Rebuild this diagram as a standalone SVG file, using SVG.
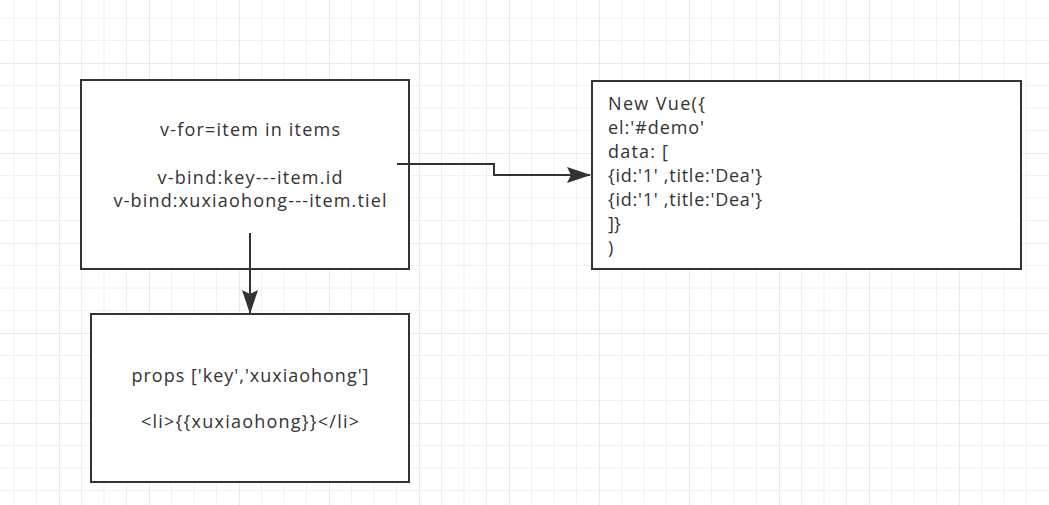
<svg xmlns="http://www.w3.org/2000/svg" width="1049" height="505" viewBox="0 0 1049 505">
<style>
.box{fill:#fff;stroke:#333;stroke-width:2}
.t{font-family:"Open Sans","Noto Sans","Liberation Sans",sans-serif;font-size:18px;fill:#333}
.c{text-anchor:middle}
.edge{fill:none;stroke:#333;stroke-width:2}
</style>
<defs>
<pattern id="grid" patternUnits="userSpaceOnUse" x="59" y="63" width="90" height="90">
<path d="M22.5,0V90M45,0V90M67.5,0V90M0,22.5H90M0,45H90M0,67.5H90" stroke="#f0f0f0" stroke-width="1" fill="none"/>
<path d="M0,0V90M0,0H90" stroke="#e4e4e4" stroke-width="1.5" fill="none"/>
</pattern>
<marker id="arr" viewBox="0 0 24 16" refX="23" refY="8" markerWidth="24" markerHeight="16" markerUnits="userSpaceOnUse" orient="auto">
<path d="M0,0 L24,8 L0,16 L4,8 z" fill="#333"/>
</marker>
</defs>
<rect width="1049" height="505" fill="#fff"/>
<rect width="1049" height="505" fill="url(#grid)"/>
<g id="node-vfor">
<rect class="box" x="81" y="80" width="328" height="189"/>
<text class="t c" x="250" y="136" textLength="180" lengthAdjust="spacing">v-for=item in items</text>
<text class="t c" x="250" y="184" textLength="185" lengthAdjust="spacing">v-bind:key---item.id</text>
<text class="t c" x="250" y="207" textLength="273" lengthAdjust="spacing">v-bind:xuxiaohong---item.tiel</text>
</g>
<g id="node-vue">
<rect class="box" x="592" y="81" width="429" height="188"/>
<text class="t" x="608" y="110" textLength="97" lengthAdjust="spacing">New Vue({</text>
<text class="t" x="608" y="134" textLength="96" lengthAdjust="spacing">el:'#demo'</text>
<text class="t" x="608" y="158" textLength="60" lengthAdjust="spacing">data: [</text>
<text class="t" x="608" y="182" textLength="154" lengthAdjust="spacing">{id:'1' ,title:'Dea'}</text>
<text class="t" x="608" y="206" textLength="154" lengthAdjust="spacing">{id:'1' ,title:'Dea'}</text>
<text class="t" x="608" y="230">]}</text>
<text class="t" x="608" y="254">)</text>
</g>
<g id="node-props">
<rect class="box" x="91" y="314" width="318" height="168"/>
<text class="t c" x="250" y="382" textLength="237" lengthAdjust="spacing">props ['key','xuxiaohong']</text>
<text class="t c" x="250" y="428" textLength="218" lengthAdjust="spacing">&lt;li&gt;{{xuxiaohong}}&lt;/li&gt;</text>
</g>
<g id="connectors">
<path class="edge" d="M397,164 H494 V175 H590" marker-end="url(#arr)"/>
<path class="edge" d="M250,233 V313" marker-end="url(#arr)"/>
</g>
</svg>
